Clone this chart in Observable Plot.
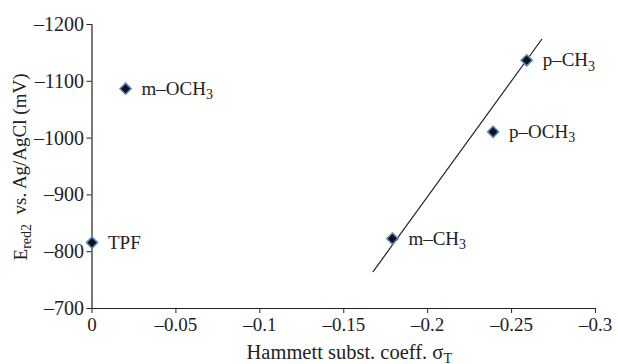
<!DOCTYPE html>
<html>
<head>
<meta charset="utf-8">
<script src="https://cdn.jsdelivr.net/npm/d3@7"></script>
<script src="https://cdn.jsdelivr.net/npm/@observablehq/plot@0.6"></script>
<style>
  html, body { margin: 0; padding: 0; background: #fff; }
  #chart svg { display: block; }
</style>
</head>
<body>
<div id="chart"></div>
<script>
// Data
const names = ["TPF", "m–OCH3", "m–CH3", "p–OCH3", "p–CH3"];
const sigma = [0, -0.02, -0.179, -0.239, -0.259];
const ered = [-816, -1087, -823, -1011, -1137];
// trend line end points
const fitSigma = [-0.1675, -0.268];
const fitE = [-765, -1174];
// ticks
const xTicks = [0, -0.05, -0.1, -0.15, -0.2, -0.25, -0.3];
const yTicks = [-700, -800, -900, -1000, -1100, -1200];

const points = names.map((n, i) => ({name: n, x: sigma[i], y: ered[i]}));
const fit = fitSigma.map((x, i) => ({x, y: fitE[i]}));
const fmt = d => d === 0 ? "0" : "–" + String(Math.abs(d));
const FS = 19;

const chart = Plot.plot({
  width: 618,
  height: 364,
  marginLeft: 91.5,
  marginRight: 23,
  marginTop: 24,
  marginBottom: 56,
  style: {fontFamily: "'Liberation Serif', 'Times New Roman', serif", fontSize: FS + "px", color: "#222", background: "#fff"},
  x: {domain: [0, -0.3]},
  y: {domain: [-700, -1200]},
  marks: [
    Plot.axisX({ticks: xTicks, tickFormat: fmt, tickSize: 5, tickPadding: 4, label: null, fontSize: FS, stroke: "#222"}),
    Plot.axisY({ticks: yTicks, tickFormat: fmt, tickSize: 5, tickPadding: 3, label: null, fontSize: 20, stroke: "#222"}),
    Plot.ruleY([-700], {stroke: "#222", strokeWidth: 1.2}),
    Plot.ruleX([0], {stroke: "#222", strokeWidth: 1.2}),
    Plot.line(fit, {x: "x", y: "y", stroke: "#222", strokeWidth: 1.2}),
    Plot.dot(points, {x: "x", y: "y", symbol: "diamond2", r: 5, fill: "#111", stroke: "#4f86c6", strokeWidth: 1.5}),
    Plot.text(points, {x: "x", y: "y", text: "name", dx: 16, textAnchor: "start", fontSize: FS, fill: "#222", className: "ptlabel"})
  ]
});

document.getElementById("chart").appendChild(chart);

const svg = d3.select(chart);
// enforce tick label font size
svg.selectAll("g[aria-label='x-axis tick label']").attr("font-size", FS).attr("fill", "#222");
svg.selectAll("g[aria-label='y-axis tick label']").attr("font-size", 20).attr("fill", "#222");

// subscripts for chemical labels
svg.selectAll(".ptlabel text").each(function() {
  const t = d3.select(this);
  const s = t.text();
  const m = s.match(/^(.*?)(\d)$/);
  if (m) {
    t.text(null);
    t.append("tspan").text(m[1]);
    t.append("tspan").attr("dy", "0.3em").attr("font-size", "14px").text(m[2]);
  }
});

// x axis title
const xt = svg.append("text")
  .attr("x", (91.5 + 595) / 2 + 6)
  .attr("y", 359)
  .attr("text-anchor", "middle")
  .attr("font-size", 20.5)
  .attr("fill", "#222");
xt.append("tspan").text("Hammett subst. coeff. σ");
xt.append("tspan").attr("dy", "0.25em").attr("font-size", "14px").text("T");

// y axis title
const yt = svg.append("text")
  .attr("transform", "translate(27,167) rotate(-90)")
  .attr("text-anchor", "middle")
  .attr("font-size", FS)
  .attr("fill", "#222");
yt.append("tspan").text("E");
yt.append("tspan").attr("dy", "0.3em").attr("font-size", "14px").text("red2");
yt.append("tspan").attr("dy", "-0.3em").text("  vs. Ag/AgCl (mV)");
</script>
</body>
</html>
